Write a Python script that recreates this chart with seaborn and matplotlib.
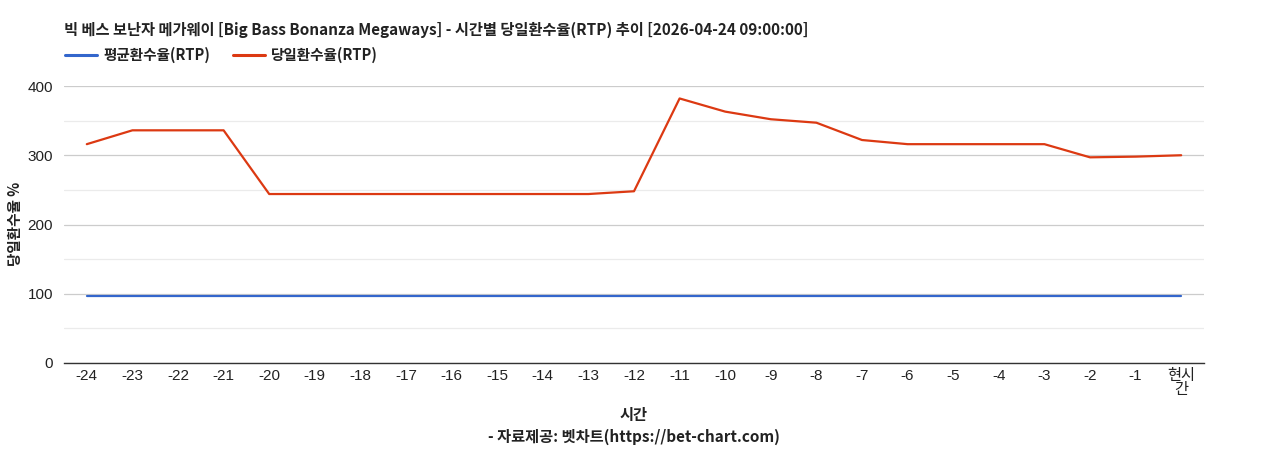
import matplotlib
matplotlib.use("Agg")
import matplotlib.pyplot as plt
import seaborn as sns
import pandas as pd
from matplotlib.lines import Line2D

hours = ["-24", "-23", "-22", "-21", "-20", "-19", "-18", "-17", "-16", "-15", "-14", "-13",
         "-12", "-11", "-10", "-9", "-8", "-7", "-6", "-5", "-4", "-3", "-2", "-1", "현시간"]
avg_rtp = [96.5] * 25
daily_rtp = [316, 336, 336, 336, 244, 244, 244, 244, 244, 244, 244, 244,
             248, 382, 363, 352, 347, 322, 316, 316, 316, 316, 297, 298, 300]
series_names = ["평균환수율(RTP)", "당일환수율(RTP)"]
colors = ["#3366cc", "#dc3912"]

sns.set_theme(style="white")
plt.rcParams["font.family"] = ["Liberation Sans", "Noto Sans CJK KR", "DejaVu Sans"]
KR = ["Noto Sans CJK KR", "DejaVu Sans"]

df = pd.DataFrame({
    "pos": list(range(len(hours))) * 2,
    "value": avg_rtp + daily_rtp,
    "series": [series_names[0]] * len(hours) + [series_names[1]] * len(hours),
})

fig = plt.figure(figsize=(12.68, 4.5), dpi=100)
ax = fig.add_axes([64 / 1268, 1 - 363 / 450, (1204 - 64) / 1268, (363 - 86) / 450])

sns.lineplot(data=df, x="pos", y="value", hue="series", palette=colors, ax=ax,
             linewidth=1.6, legend=False)

ax.set_xlim(-0.5, len(hours) - 0.5)
ax.set_ylim(0, 400)
ax.set_yticks([0, 100, 200, 300, 400])
ax.set_yticks([50, 150, 250, 350], minor=True)
ax.grid(axis="y", which="major", color="#cccccc", linewidth=0.9)
ax.grid(axis="y", which="minor", color="#ebebeb", linewidth=0.9)
ax.grid(axis="x", visible=False)
ax.set_axisbelow(True)
for s in ["top", "right", "left"]:
    ax.spines[s].set_visible(False)
ax.spines["bottom"].set_color("#333333")
ax.spines["bottom"].set_linewidth(1)

tick_labels = [h if h != "현시간" else "현시\n간" for h in hours]
ax.set_xticks(range(len(hours)))
ax.set_xticklabels(tick_labels, fontsize=11, color="#222222", linespacing=1.0,
                   verticalalignment="top")
ax.tick_params(axis="x", length=0, pad=4)
ax.tick_params(axis="y", length=0, pad=8, labelsize=11, labelcolor="#222222")
ax.tick_params(axis="y", which="minor", length=0)

ax.set_xlabel("")
ax.set_ylabel("")
fig.text(15 / 1268, 1 - 224 / 450, "당일환수율 %", fontsize=10.5, fontweight="bold",
         color="#222222", rotation=90, ha="center", va="center", family=KR)

fig.text(64 / 1268, 1 - 30 / 450,
         "빅 베스 보난자 메가웨이 [Big Bass Bonanza Megaways] - 시간별 당일환수율(RTP) 추이 [2026-04-24 09:00:00]",
         fontsize=11, fontweight="bold", color="#222222", va="center", ha="left", family=KR)

handles = [Line2D([0], [0], color=c, linewidth=2.2) for c in colors]
leg = fig.legend(handles, series_names, loc="center left",
                 bbox_to_anchor=(52 / 1268, 1 - 55 / 450), ncol=2, frameon=False,
                 prop={"family": KR, "weight": "bold", "size": 10.5},
                 handlelength=2.2, handletextpad=0.4, columnspacing=1.6)
for t in leg.get_texts():
    t.set_color("#222222")

fig.text((64 + 1204) / 2 / 1268, 1 - 415 / 450, "시간", fontsize=11, fontweight="bold",
         color="#222222", ha="center", va="center", family=KR)
fig.text((64 + 1204) / 2 / 1268, 1 - 437 / 450, "- 자료제공: 벳차트(https://bet-chart.com)",
         fontsize=11, fontweight="bold", color="#222222", ha="center", va="center", family=KR)

fig.savefig("out.png", dpi=100)
